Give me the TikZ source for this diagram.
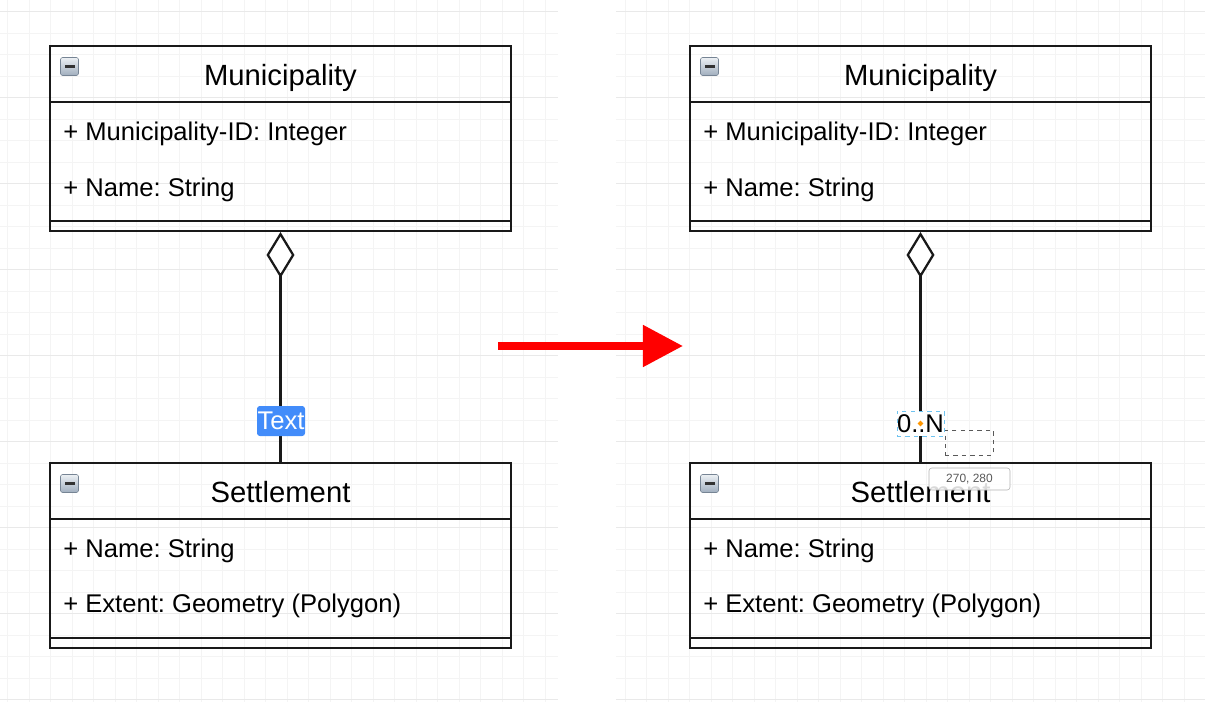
\documentclass[tikz,border=0pt]{standalone}
\usepackage{fontspec}
\setmainfont{Liberation Sans}
\usetikzlibrary{arrows.meta,shapes.geometric}
\frenchspacing
\def\pxu{0.025cm}
\definecolor{gridminor}{RGB}{244,244,244}
\definecolor{gridmajor}{RGB}{233,233,233}
\definecolor{labelblue}{RGB}{66,140,250}
\definecolor{handleorange}{RGB}{255,150,0}
\definecolor{selblue}{RGB}{110,195,240}
\definecolor{icontop}{RGB}{236,240,244}
\definecolor{iconbottom}{RGB}{160,174,190}
\definecolor{iconedge}{RGB}{118,132,148}
\tikzset{
  gridline/.style={gridminor,line width=0.6pt},
  gridbold/.style={gridmajor,line width=0.6pt},
  classbox/.style={draw=black!90,line width=1.4pt,inner sep=0pt,
    minimum width=461*\pxu,minimum height=185*\pxu},
  classline/.style={black!90,line width=1.4pt},
  classtitle/.style={anchor=base,inner sep=0pt,font=\fontsize{20.8}{25}\selectfont},
  classattr/.style={anchor=base west,inner sep=0pt,font=\fontsize{18.2}{22}\selectfont},
  minusicon/.style={draw=iconedge,rounded corners=1.5pt,minimum size=18*\pxu,
    inner sep=0pt,top color=icontop,bottom color=iconbottom},
  aggregation/.style={draw=black!90,line width=1.6pt,
    -{Diamond[open,fill=white,length=32.7pt,width=19.9pt]}},
  textlabel/.style={fill=labelblue,text=white,rounded corners=2pt,inner sep=0pt,
    minimum width=48*\pxu,minimum height=30*\pxu,font=\fontsize{18.2}{22}\selectfont},
  multlabel/.style={draw=selblue,dashed,line width=0.5pt,fill=white,inner sep=0pt,
    minimum width=47*\pxu,minimum height=25*\pxu,font=\fontsize{18.2}{22}\selectfont},
  handle/.style={diamond,fill=handleorange,inner sep=0pt,minimum size=6*\pxu},
  ghostbox/.style={draw=black!65,dashed,line width=0.6pt,inner sep=0pt,
    minimum width=48*\pxu,minimum height=25*\pxu},
  tooltip/.style={draw=black!30,fill=white,fill opacity=0.85,text opacity=1,
    rounded corners=2pt,inner sep=0pt,minimum width=81*\pxu,minimum height=22*\pxu,
    text=black!65,font=\fontsize{8.5}{10}\selectfont}
}
\begin{document}
\begin{tikzpicture}[x=\pxu,y=-\pxu]
 \useasboundingbox (0,0) rectangle (1205,702);
 % background grids of the two editor panels
 \foreach \k in {0,...,25}
   \draw[gridline] ({7.5+21.5*\k},0) -- ({7.5+21.5*\k},702);
 \foreach \k in {0,...,26}
   \draw[gridline] ({625+21.5*\k},0) -- ({625+21.5*\k},702);
 \foreach \k in {0,...,32} {
   \draw[gridline] (0,{11.5+21.5*\k}) -- (558,{11.5+21.5*\k});
   \draw[gridline] (616,{11.5+21.5*\k}) -- (1205,{11.5+21.5*\k});
 }
 \foreach \k in {0,4,...,32} {
   \draw[gridbold] (0,{11.5+21.5*\k}) -- (558,{11.5+21.5*\k});
   \draw[gridbold] (616,{11.5+21.5*\k}) -- (1205,{11.5+21.5*\k});
 }
 % the same two classes, before and after
 \foreach \side/\dx in {L/0,R/640} {
   \begin{scope}[shift={(\dx,0)}]
     \node[classbox] (mun\side) at (280.5,138.5) {};
     \draw[classline] (50,102) -- (511,102) (50,221) -- (511,221);
     \node[minusicon] (municon\side) at (69.5,66.5) {};
     \fill[black!80] (64.5,65.2) rectangle (74.5,67.8);
     \node[classtitle] (muntitle\side) at (280.5,85.5) {Municipality};
     \node[classattr] (munid\side) at (63,141) {+ Municipality-ID: Integer};
     \node[classattr] (munname\side) at (63,196.5) {+ Name: String};
     \node[classbox] (set\side) at (280.5,555.5) {};
     \draw[classline] (50,519) -- (511,519) (50,638) -- (511,638);
     \node[minusicon] (seticon\side) at (69.5,483.5) {};
     \fill[black!80] (64.5,482.2) rectangle (74.5,484.8);
     \node[classtitle] (settitle\side) at (280.5,502) {Settlement};
     \node[classattr] (setname\side) at (63,557.5) {+ Name: String};
     \node[classattr] (setext\side) at (63,612.5) {+ Extent: Geometry (Polygon)};
     \draw[aggregation] (set\side.north) -- (mun\side.south);
   \end{scope}
 }
 % edge label while editing, then with the multiplicity typed in
 \node[textlabel] (lblL) at (281,421) {Text};
 \node[multlabel] (lblR) at (920.5,423.5) {0..N};
 \node[handle] (lblhandle) at (lblR.center) {};
 \node[ghostbox] (ghost) at (969,442.5) {};
 \node[tooltip] (tip) at (969.5,479) {270, 280};
 % red arrow between the panels
 \coordinate (gofrom) at (498,346);
 \coordinate (goto) at (683,346);
 \draw[red,line width=5.7pt,-{Triangle[length=28.5pt,width=28.5pt]}] (gofrom) -- (goto);
\end{tikzpicture}
\end{document}
